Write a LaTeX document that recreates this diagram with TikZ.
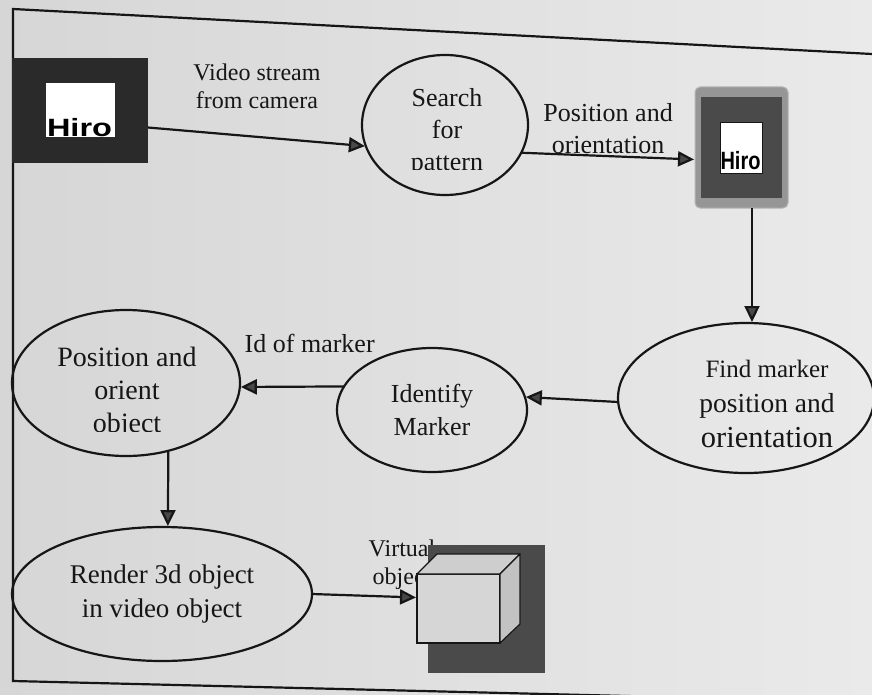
\documentclass[tikz,border=0pt]{standalone}
\usepackage{fontspec}
\setmainfont{Liberation Serif}
\newfontfamily\hirofont{Liberation Sans}
\usetikzlibrary{shapes.geometric, positioning, arrows.meta}

\definecolor{paperL}{RGB}{214,214,214}
\definecolor{paperR}{RGB}{234,234,234}
\definecolor{ink}{RGB}{22,22,22}
\definecolor{tipgray}{RGB}{72,72,72}
\definecolor{markdark}{RGB}{42,42,42}
\definecolor{markgray}{RGB}{150,150,150}
\definecolor{markmid}{RGB}{74,74,74}
\definecolor{facefront}{RGB}{214,214,214}
\definecolor{facetop}{RGB}{206,206,206}
\definecolor{faceside}{RGB}{194,194,194}

\begin{document}
\begin{tikzpicture}[x=1pt, y=-1pt, shorten >=1pt, line width=2.2pt, ink,
       proc/.style={ellipse, draw=ink, inner sep=0pt, outer sep=0pt, align=center,
              font=\fontsize{26}{33}\selectfont},
       txt/.style={inner sep=0pt, align=center},
       lbl/.style={inner sep=0pt, align=center, font=\fontsize{24}{28}\selectfont},
       flow/.style={-{Triangle[length=16pt, width=15pt, fill=tipgray]}},
       hiro/.style={inner sep=0pt, black, font=\hirofont\bfseries\fontsize{25}{25}\selectfont},
       patch/.style={inner sep=0pt, outer sep=0pt}]
       \useasboundingbox (0,0) rectangle (872,695);
       \clip (0,0) rectangle (872,695);
       \fill[left color=paperL, right color=paperR] (0,0) rectangle (872,695);
       \draw (872,54) -- (13,9) -- (13,681) -- (872,702);

       \node[patch, fill=markdark, minimum width=136pt, minimum height=105pt] (cam) at (80,110.5) {};
       \node[patch, fill=white, minimum width=69pt, minimum height=54pt] (camtag) at (80.5,110) {};
       \node[hiro] (camhiro) at (79.5,128) {\scalebox{1.3}[1]{Hiro}};

       \node[patch, fill=markgray, draw=markgray!70!white, line width=1pt, rounded corners=5pt,
              minimum width=93pt, minimum height=121pt] (mark) at (741.5,147.5) {};
       \node[patch, fill=markmid, minimum width=81pt, minimum height=101pt] (markin) at (741.5,147.5) {};
       \node[patch, fill=white, draw=ink, line width=0.8pt, minimum width=42pt, minimum height=51pt] (marktag) at (741,147.5) {};
       \node[hiro] (markhiro) at (740.5,161) {\scalebox{0.8}[1]{Hiro}};

       \node[lbl] (virt) at (402,565) {Virtual\\object};
       \node[patch, fill=markmid, minimum width=117pt, minimum height=128pt] (objbg) at (486.5,609) {};
       \node[patch, draw=ink, line width=1.2pt, fill=facefront, minimum width=83pt, minimum height=69pt] (cube) at (458.5,608.5) {};
       \filldraw[fill=facetop, line width=1.2pt, line join=round]
              (cube.north west) -- ++(20,-20) -- ++(83,0) -- (cube.north east) -- cycle;
       \filldraw[fill=faceside, line width=1.2pt, line join=round]
              (cube.north east) -- ++(20,-20) -- ++(0,70) -- (cube.south east) -- cycle;

       \node[proc, minimum width=166pt, minimum height=140pt] (search) at (445,125) {};
       \node[proc, minimum width=256pt, minimum height=150pt] (find) at (746,398) {};
       \node[proc, minimum width=190pt, minimum height=124pt] (ident) at (432,410) {Identify\\Marker};
       \node[proc, minimum width=228pt, minimum height=146pt] (orient) at (126,383) {};
       \node[proc, minimum width=300pt, minimum height=134pt, font=\fontsize{27}{34}\selectfont] (render) at (162,594) {Render 3d object\\in video object};

       \begin{scope}
              \clip (search.north west) rectangle (540,170);
              \node[txt, font=\fontsize{26}{32}\selectfont] (searchtxt) at (447,132) {Search\\for\\pattern};
       \end{scope}
       \begin{scope}
              \clip (orient.north west) rectangle (250,431);
              \node[txt, font=\fontsize{28}{33}\selectfont] (orienttxt) at (127,393) {Position and\\orient\\object};
       \end{scope}
       \node[txt, font=\fontsize{27}{35}\selectfont] (findtxt) at (767,404)
              {{\fontsize{25}{30}\selectfont Find marker}\\{\fontsize{27.5}{33}\selectfont position and}\\{\fontsize{30.5}{36}\selectfont orientation}};

       \path[flow]
       ([yshift=-17pt]cam.east) edge node[lbl, above=27pt] (lvideo) {Video stream\\from camera} (search.195)
       (search.-20) edge node[lbl, font=\fontsize{26}{32}\selectfont, above=1pt] (lpose) {Position and\\orientation} ([yshift=-12pt]mark.west)
       ([xshift=10.5pt]mark.south) edge ([xshift=6pt]find.north)
       ([yshift=-4pt]find.west) edge (ident.8)
       (ident.165) edge node[lbl, font=\fontsize{26}{30}\selectfont, pos=0.33, above=33pt] (lid) {Id of marker} (orient.-2)
       (orient.-58) edge (render.85)
       (render.east) edge ([yshift=11pt]cube.west);
\end{tikzpicture}
\end{document}
